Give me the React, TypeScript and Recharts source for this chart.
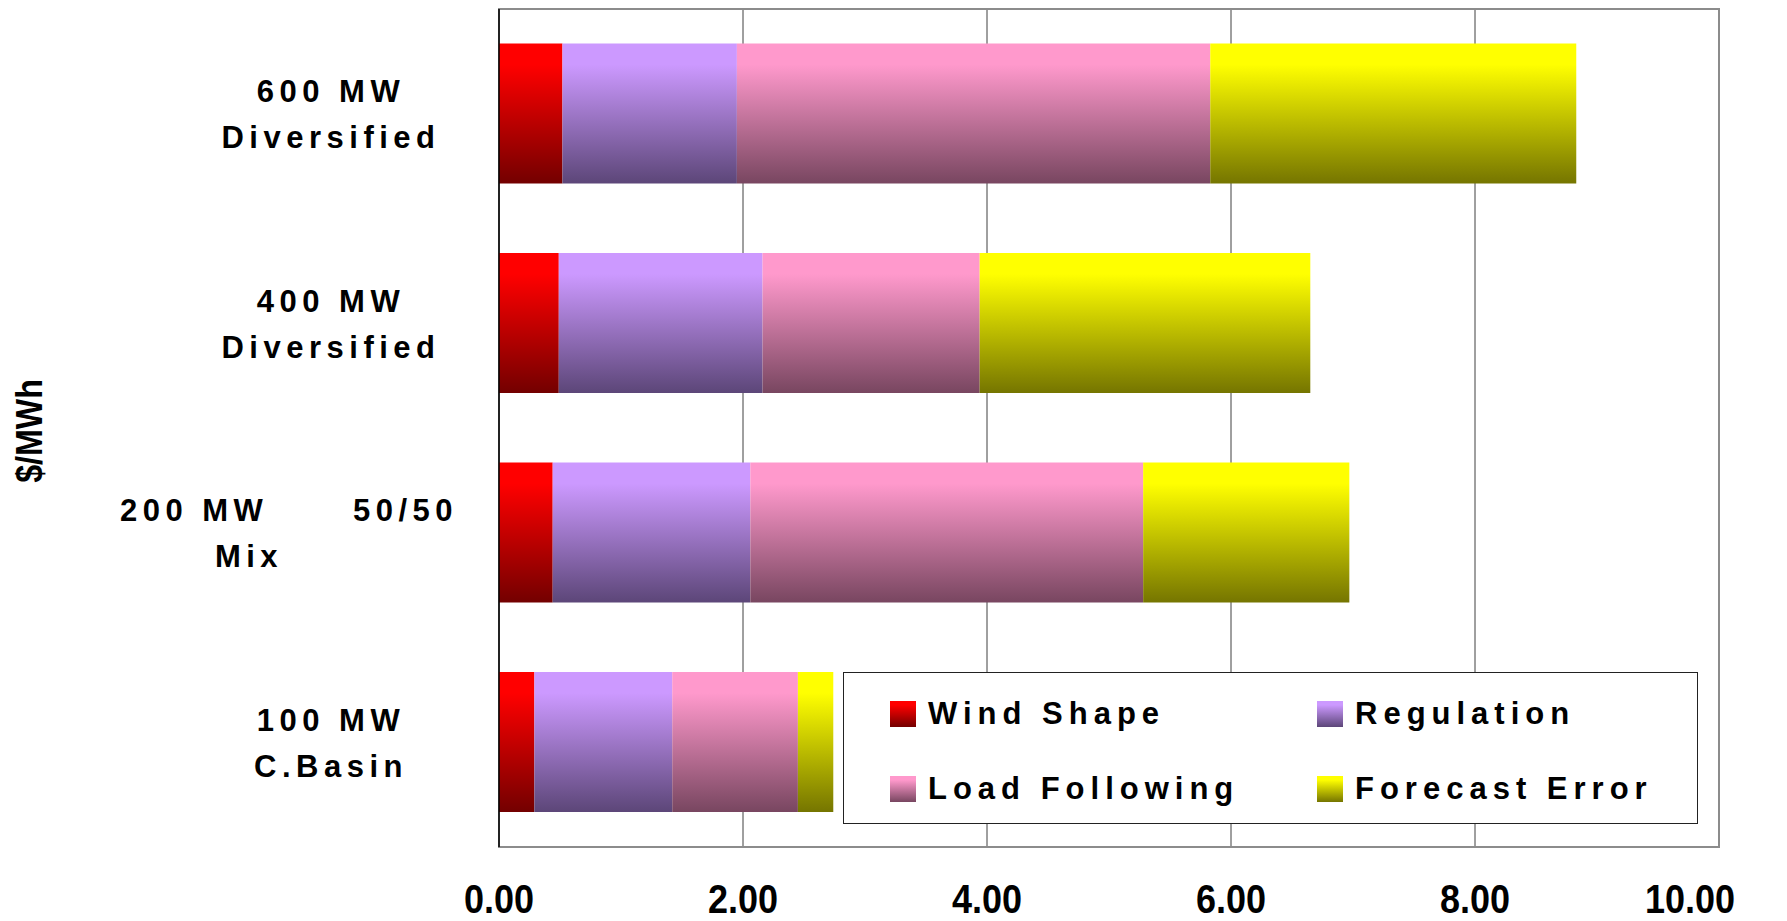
import React from 'react';
import { BarChart, Bar, XAxis, YAxis, CartesianGrid, Legend, ReferenceArea } from 'recharts';

// categories, top to bottom
const categories = ['600 MW Diversified', '400 MW Diversified', '200 MW 50/50 Mix', '100 MW C.Basin'];
const categoryLines = [
  ['600 MW', 'Diversified'],
  ['400 MW', 'Diversified'],
  ['200 MW      50/50', 'Mix'],
  ['100 MW', 'C.Basin'],
];

// $/MWh components
const windShape = [0.52, 0.49, 0.44, 0.29];
const regulation = [1.43, 1.67, 1.62, 1.13];
const loadFollowing = [3.88, 1.78, 3.22, 1.03];
const forecastError = [3.0, 2.71, 1.69, 0.29];

const xTicks = [0, 2, 4, 6, 8, 10];

const seriesNames = ['Wind Shape', 'Regulation', 'Load Following', 'Forecast Error'];
const seriesKeys = ['wind', 'reg', 'lf', 'fe'];
const gradients: Record<string, [string, string]> = {
  wind: ['#ff0000', '#730000'],
  reg: ['#cc99ff', '#5c4678'],
  lf: ['#ff99cc', '#784660'],
  fe: ['#ffff00', '#757500'],
};

const data = categories.map((name, i) => ({
  name,
  wind: windShape[i],
  reg: regulation[i],
  lf: loadFollowing[i],
  fe: forecastError[i],
}));

const labelFont = '"Liberation Sans", Arial, sans-serif';
const narrowFont = '"Liberation Sans Narrow", "Arial Narrow", "Liberation Sans", sans-serif';

// a couple of lines sit off-centre in the original
const lineDx: Record<string, number> = { '200 MW      50/50': -42, Mix: -82 };

const CategoryTick = (props: any) => {
  const { x, y, index } = props;
  const lines = categoryLines[index] || [];
  return (
    <g>
      {lines.map((line, i) => (
        <text
          key={i}
          x={x - 166 + (lineDx[line] || 0)}
          y={y - 22 + i * 46}
          textAnchor="middle"
          dominantBaseline="central"
          fontFamily={labelFont}
          fontWeight="bold"
          fontSize={31}
          fill="#000"
          style={{ letterSpacing: 5.5, whiteSpace: 'pre' }}
        >
          {line}
        </text>
      ))}
    </g>
  );
};

const ValueTick = (props: any) => {
  const { x, y, payload, index } = props;
  const last = index === xTicks.length - 1;
  return (
    <g transform={`translate(${last ? x + 16 : x} ${y + 66})`}>
      <text
        transform="scale(0.9 1)"
        textAnchor={last ? 'end' : 'middle'}
        fontFamily={narrowFont}
        fontWeight="bold"
        fontSize={40}
        fill="#000"
      >
        {Number(payload.value).toFixed(2)}
      </text>
    </g>
  );
};

const renderLegend = () => (
  <div
    style={{
      position: 'relative',
      width: 855,
      height: 152,
      boxSizing: 'border-box',
      border: '1.5px solid #222',
      background: '#fff',
    }}
  >
    {seriesKeys.map((key, i) => {
      const col = i % 2;
      const row = Math.floor(i / 2);
      const [top, bottom] = gradients[key];
      return (
        <div
          key={key}
          style={{
            position: 'absolute',
            left: 46 + col * 427,
            top: 28 + row * 75,
            height: 26,
            display: 'flex',
            alignItems: 'center',
            gap: 12,
            fontFamily: labelFont,
            fontWeight: 'bold',
            fontSize: 31,
            letterSpacing: 6,
            color: '#000',
            whiteSpace: 'nowrap',
          }}
        >
          <span
            style={{
              display: 'inline-block',
              width: 26,
              height: 26,
              background: `linear-gradient(to bottom, ${top} 0%, ${top} 15%, ${bottom} 100%)`,
            }}
          />
          <span>{seriesNames[i]}</span>
        </div>
      );
    })}
  </div>
);

const App: React.FC = () => {
  return (
    <div style={{ width: 1771, height: 913, background: '#fff' }}>
      <BarChart
        width={1771}
        height={913}
        data={data}
        layout="vertical"
        margin={{ top: 1, right: 60, bottom: 0, left: 0 }}
        barCategoryGap="16.5%"
        style={{ overflow: 'visible' }}
      >
        <defs>
          {seriesKeys.map((key) => (
            <linearGradient key={key} id={`g-${key}`} x1="0" y1="0" x2="0" y2="1">
              <stop offset="0%" stopColor={gradients[key][0]} />
              <stop offset="15%" stopColor={gradients[key][0]} />
              <stop offset="100%" stopColor={gradients[key][1]} />
            </linearGradient>
          ))}
        </defs>
        <CartesianGrid vertical horizontal={false} stroke="#404040" />
        <ReferenceArea x1={0} x2={10} fill="none" stroke="#8c8c8c" strokeWidth={2} ifOverflow="visible" />
        <XAxis
          type="number"
          domain={[0, 10]}
          ticks={xTicks}
          axisLine={false}
          tickLine={false}
          tickSize={0}
          tickMargin={0}
          height={74}
          tick={<ValueTick />}
        />
        <YAxis
          type="category"
          dataKey="name"
          width={491}
          axisLine={{ stroke: '#000', strokeWidth: 1.5 }}
          tickLine={false}
          tickSize={0}
          tick={<CategoryTick />}
          label={{
            content: (p: any) => {
              const vb = p.viewBox || {};
              const cx = 21;
              const cy = (vb.y || 0) + (vb.height || 0) / 2 + 3;
              return (
                <g transform={`translate(${cx} ${cy}) rotate(-90) scale(0.87 1)`}>
                  <text
                    x={0}
                    y={0}
                    textAnchor="middle"
                    dominantBaseline="central"
                    fontFamily={narrowFont}
                    fontWeight="bold"
                    fontSize={37}
                    fill="#000"
                  >
                    $/MWh
                  </text>
                </g>
              );
            },
          }}
        />
        <Legend
          layout="horizontal"
          verticalAlign="middle"
          align="center"
          content={renderLegend}
          wrapperStyle={{ left: 835, top: 664, width: 855, height: 152 }}
        />
        {seriesKeys.map((key, i) => (
          <Bar
            key={key}
            dataKey={key}
            name={seriesNames[i]}
            stackId="a"
            fill={`url(#g-${key})`}
            isAnimationActive={false}
          />
        ))}
      </BarChart>
    </div>
  );
};

export default App;
